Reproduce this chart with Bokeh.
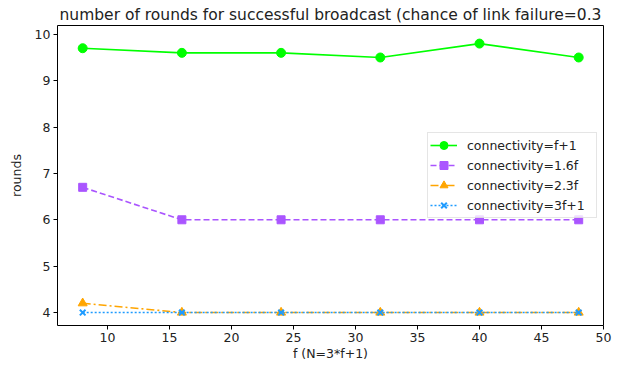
from bokeh.plotting import figure
from bokeh.models import Range1d, Legend, LegendItem, FixedTicker
from bokeh.embed import file_html
from bokeh.resources import INLINE

f_vals = [8, 16, 24, 32, 40, 48]
conn_f1 = [9.7, 9.6, 9.6, 9.5, 9.8, 9.5]
conn_16f = [6.7, 6.0, 6.0, 6.0, 6.0, 6.0]
conn_23f = [4.2, 4.0, 4.0, 4.0, 4.0, 4.0]
conn_3f1 = [4.0, 4.0, 4.0, 4.0, 4.0, 4.0]
labels = ["connectivity=f+1", "connectivity=1.6f", "connectivity=2.3f", "connectivity=3f+1"]
x_ticks = [10, 15, 20, 25, 30, 35, 40, 45, 50]
y_ticks = [4, 5, 6, 7, 8, 9, 10]
title = "number of rounds for successful broadcast (chance of link failure=0.3"

FONT = "DejaVu Sans"

p = figure(width=620, height=366, output_backend="svg", toolbar_location=None,
           x_range=Range1d(5.97, 50.0), y_range=Range1d(3.72, 10.19),
           min_border_left=57, min_border_right=17, min_border_top=25, min_border_bottom=41)
p.title.text = title
p.title.text_font = FONT
p.title.text_font_size = "15.5px"
p.title.text_font_style = "normal"
p.title.align = "center"
p.title.text_color = "#222222"
p.title.offset = 0
p.title.standoff = 3

p.xgrid.visible = False
p.ygrid.visible = False
p.outline_line_color = "black"
p.outline_line_width = 1

for ax in (p.xaxis, p.yaxis):
    ax.major_label_text_font = FONT
    ax.major_label_text_font_size = "12.5px"
    ax.major_label_text_color = "#222222"
    ax.axis_label_text_font = FONT
    ax.axis_label_text_font_size = "12.5px"
    ax.axis_label_text_font_style = "normal"
    ax.axis_label_text_color = "#222222"
    ax.minor_tick_line_color = None
    ax.major_tick_out = 4
    ax.major_tick_in = 0
    ax.axis_line_color = None
    ax.major_tick_line_color = "black"
p.xaxis.ticker = FixedTicker(ticks=x_ticks)
p.yaxis.ticker = FixedTicker(ticks=y_ticks)
p.xaxis.axis_label = "f (N=3*f+1)"
p.yaxis.axis_label = "rounds"
p.xaxis.axis_label_standoff = 1
p.yaxis.axis_label_standoff = 8
p.xaxis.major_label_standoff = 3
p.yaxis.major_label_standoff = 3

green = "#00ff00"
purple = "#aa55ff"
orange = "#ffa500"
blue = "#1e9bff"

l1 = p.line(f_vals, conn_f1, line_color=green, line_width=1.6)
m1 = p.scatter(f_vals, conn_f1, marker="circle", size=9, fill_color=green, line_color=green)
l2 = p.line(f_vals, conn_16f, line_color=purple, line_width=1.6, line_dash="6 3")
m2 = p.scatter(f_vals, conn_16f, marker="square", size=8, fill_color=purple, line_color=purple)
l3 = p.line(f_vals, conn_23f, line_color=orange, line_width=1.6, line_dash="8 3 2 3")
m3 = p.scatter(f_vals, conn_23f, marker="triangle", size=9, fill_color=orange, line_color=orange)
l4 = p.line(f_vals, conn_3f1, line_color=blue, line_width=1.6, line_dash="2 2")
m4 = p.scatter(f_vals, conn_3f1, marker="x", size=8, line_color=blue, line_width=2)

legend = Legend(items=[
    LegendItem(label=labels[0], renderers=[l1, m1]),
    LegendItem(label=labels[1], renderers=[l2, m2]),
    LegendItem(label=labels[2], renderers=[l3, m3]),
    LegendItem(label=labels[3], renderers=[l4, m4]),
], location="right")
legend.label_text_font = FONT
legend.label_text_font_size = "12.5px"
legend.label_text_color = "#222222"
legend.glyph_width = 27
legend.glyph_height = 20
legend.label_height = 20
legend.label_width = 127
legend.spacing = 0
legend.padding = 2
legend.margin = 6
legend.border_line_color = "#cccccc"
legend.border_line_width = 1
legend.background_fill_alpha = 0.8
legend.label_standoff = 10
p.add_layout(legend, "center")

open("out.html", "w").write(file_html(p, INLINE))
